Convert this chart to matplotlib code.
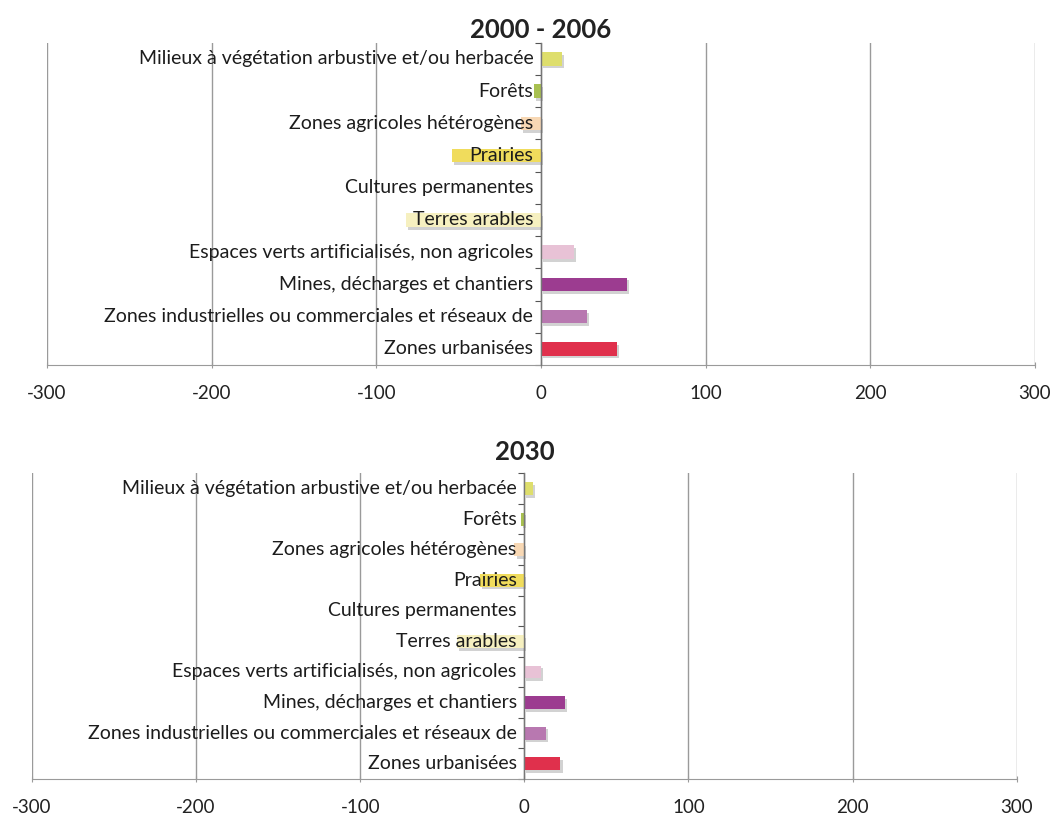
import matplotlib
matplotlib.use("Agg")
import matplotlib.pyplot as plt
import matplotlib.patheffects as pe
import numpy as np

plt.rcParams["font.family"] = ["Lato", "DejaVu Sans"]

# Land-cover categories, listed from bottom to top of each panel
categories = [
    "Zones urbanisées",
    "Zones industrielles ou commerciales et réseaux de",
    "Mines, décharges et chantiers",
    "Espaces verts artificialisés, non agricoles",
    "Terres arables",
    "Cultures permanentes",
    "Prairies",
    "Zones agricoles hétérogènes",
    "Forêts",
    "Milieux à végétation arbustive et/ou herbacée",
]

# Change in area per category
values_2000_2006 = [46, 28, 52, 20, -82, 0, -54, -12, -4, 13]
values_2030 = [22, 13, 25, 10, -41, 0, -27, -6, -2, 5]

bar_colors = [
    "#e0304c", "#b878b0", "#9c3c90", "#e8c2d6", "#f6f0c0",
    "#f0e070", "#f0dc5c", "#f8d8b4", "#a8c050", "#dede6c",
]

xticks = [-300, -200, -100, 0, 100, 200, 300]
titles = ["2000 - 2006", "2030"]

fig = plt.figure(figsize=(10.52, 8.22), dpi=100)

panels = [
    (fig.add_axes([0.0447, 0.556, 0.939, 0.392]), values_2000_2006, titles[0], 0.9635),
    (fig.add_axes([0.0304, 0.0523, 0.936, 0.372]), values_2030, titles[1], 0.450),
]

grid_color = "#9a9a9a"
shadow = [pe.SimplePatchShadow(offset=(1.5, -2.0), shadow_rgbFace="#808080", alpha=0.35), pe.Normal()]

for ax, vals, title, title_y in panels:
    y = np.arange(len(categories))
    bars = ax.barh(y, vals, height=0.42, color=bar_colors, zorder=3)
    for b in bars:
        b.set_path_effects(shadow)

    ax.set_xlim(-300, 300)
    ax.set_ylim(-0.5, len(categories) - 0.5)
    ax.set_xticks(xticks)
    ax.set_xticklabels([str(t) for t in xticks], fontsize=13.5, color="#222222")
    ax.tick_params(axis="x", direction="inout", length=5, color=grid_color, pad=12)
    ax.xaxis.grid(True, color=grid_color, linewidth=1.0, zorder=0)
    ax.set_axisbelow(True)

    # Category axis crossing at zero
    ax.spines["left"].set_position(("data", 0))
    ax.spines["left"].set_color("#777777")
    ax.spines["left"].set_linewidth(1.0)
    ax.spines["left"].set_zorder(4)
    ax.set_yticks(np.arange(-0.5, len(categories), 1.0))
    ax.set_yticklabels([])
    ax.tick_params(axis="y", direction="out", length=4, color="#555555")

    # Category names sit just left of the zero axis, drawn over the bars
    for yi, name in zip(y, categories):
        ax.annotate(name, xy=(0, yi), xytext=(-5.5, 0), textcoords="offset points",
                    ha="right", va="center", fontsize=14, color="#1c1c1c", zorder=6)

    ax.spines["bottom"].set_color(grid_color)
    ax.spines["top"].set_visible(False)
    ax.spines["right"].set_visible(False)

    pos = ax.get_position()
    fig.text((pos.x0 + pos.x1) / 2, title_y, title, ha="center", va="center",
             fontsize=18.5, fontweight="bold", color="#222222")

fig.savefig("out.png", dpi=100, facecolor="white")
